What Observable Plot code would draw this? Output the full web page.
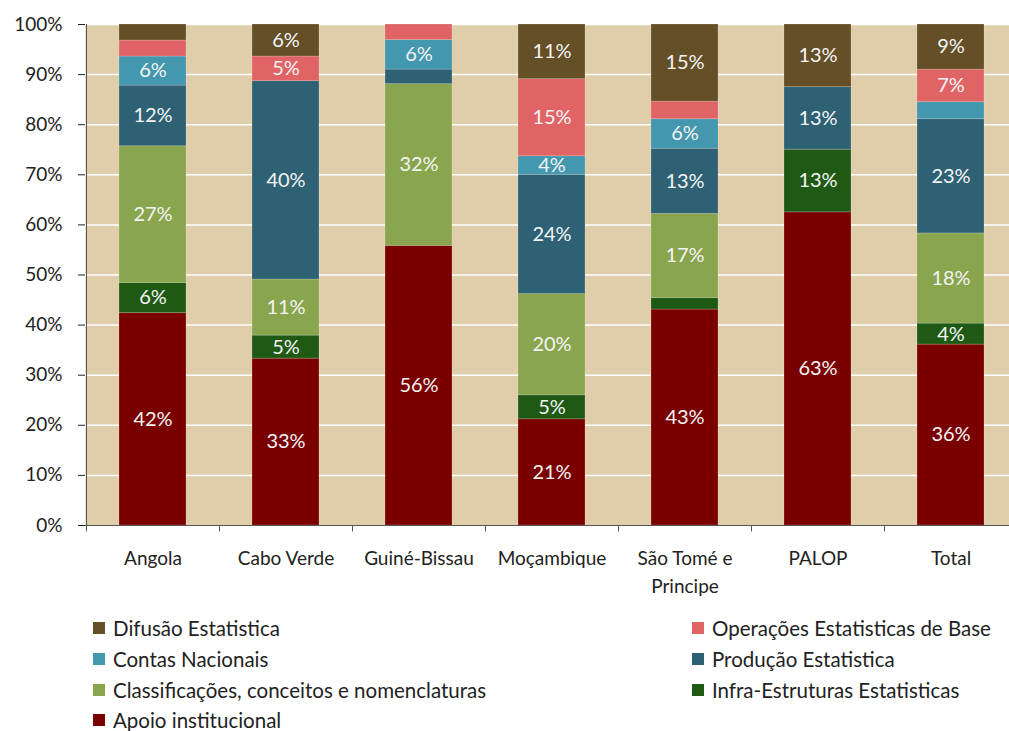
<!DOCTYPE html>
<html><head><meta charset="utf-8">
<script src="https://cdn.jsdelivr.net/npm/d3@7"></script>
<script src="https://cdn.jsdelivr.net/npm/@observablehq/plot@0.6"></script>
<style>
body{margin:0;background:#fff;font-family:Lato,sans-serif;}
#legend{position:relative;height:131px;width:1009px;color:#222;font-size:20.5px;}
.item{position:absolute;display:flex;align-items:center;height:24px;white-space:nowrap;}
.sw{width:12px;height:12px;margin-right:8px;}
</style></head><body><div id="chart"></div><div id="legend"></div>
<script>
const categories = ["Angola","Cabo Verde","Guiné-Bissau","Moçambique","São Tomé e\nPrincipe","PALOP","Total"];
const series = ["Apoio institucional","Infra-Estruturas Estatisticas","Classificações, conceitos e nomenclaturas","Produção Estatistica","Contas Nacionais","Operações Estatisticas de Base","Difusão Estatistica"];
const colors = ["#7A0000","#1F5A14","#89A54E","#2E6174","#4397AF","#E06465","#654F27"];
const apoio     = [42.4, 33.3, 55.8, 21.2, 43.1, 62.5, 36.1];
const infra     = [ 6.0,  4.6,  0.0,  4.8,  2.3, 12.5,  4.2];
const classif   = [27.3, 11.2, 32.3, 20.2, 16.8,  0.0, 18.0];
const producao  = [12.1, 39.6,  2.9, 23.8, 13.0, 12.5, 22.8];
const contas    = [ 5.8,  0.0,  5.9,  3.7,  5.9,  0.0,  3.4];
const operacoes = [ 3.2,  4.9,  3.1, 15.4,  3.5,  0.0,  6.5];
const difusao   = [ 3.2,  6.4,  0.0, 10.9, 15.4, 12.5,  9.0];
const yTicks = [0,10,20,30,40,50,60,70,80,90,100];
const legendLeft = ["Difusão Estatistica","Contas Nacionais","Classificações, conceitos e nomenclaturas","Apoio institucional"];
const legendRight = ["Operações Estatisticas de Base","Produção Estatistica","Infra-Estruturas Estatisticas"];

const seriesValues = [apoio, infra, classif, producao, contas, operacoes, difusao];
const data = [];
series.forEach((s, si) => categories.forEach((c, ci) => data.push({category: c, series: s, value: seriesValues[si][ci]})));

const chart = Plot.plot({
  width: 1009, height: 600,
  marginTop: 24, marginBottom: 75, marginLeft: 85, marginRight: -8,
  style: {fontFamily: "Lato, sans-serif", background: "transparent"},
  x: {domain: categories, paddingInner: 0.5, paddingOuter: 0.25},
  y: {domain: [0, 100]},
  color: {domain: series, range: colors},
  marks: [
    Plot.frame({fill: "#E0CDAA", stroke: null}),
    Plot.ruleY(yTicks.filter(d => d > 0), {stroke: "#fff", strokeWidth: 1.5}),
    Plot.barY(data, {x: "category", y: "value", fill: "series", order: series, stroke: "#fff", strokeOpacity: 0.18, strokeWidth: 1}),
    Plot.text(data, Plot.stackY({x: "category", y: "value", z: "series", order: series,
      text: d => d.value >= 3.6 ? Math.round(d.value) + "%" : "", fill: "#f4f4f4", fontSize: 20})),
    Plot.ruleY([0], {stroke: "#555", strokeWidth: 1}),
    Plot.ruleX([categories[0]], {dx: -66.5, y1: 0, y2: 100, stroke: "#555", strokeWidth: 1}),
    Plot.ruleX(categories, {dx: -66.5, y1: 0, y2: -1.3, stroke: "#555", strokeWidth: 1}),
    Plot.axisY({ticks: yTicks, tickFormat: d => d + "%", tickSize: 7, tickPadding: 16, fontSize: 19, color: "#222", label: null}),
    Plot.axisX({tickSize: 0, tickPadding: 20, fontSize: 19, lineHeight: 1.45, color: "#222", label: null})
  ]
});
document.getElementById("chart").appendChild(chart);

const legend = document.getElementById("legend");
const colorOf = s => colors[series.indexOf(s)];
function addItem(s, left, row) {
  const el = document.createElement("div");
  el.className = "item";
  el.style.left = left + "px";
  el.style.top = (16 + row * 30.8) + "px";
  el.innerHTML = `<span class="sw" style="background:${colorOf(s)}"></span><span>${s}</span>`;
  legend.appendChild(el);
}
legendLeft.forEach((s, i) => addItem(s, 93, i));
legendRight.forEach((s, i) => addItem(s, 692, i));
</script></body></html>
